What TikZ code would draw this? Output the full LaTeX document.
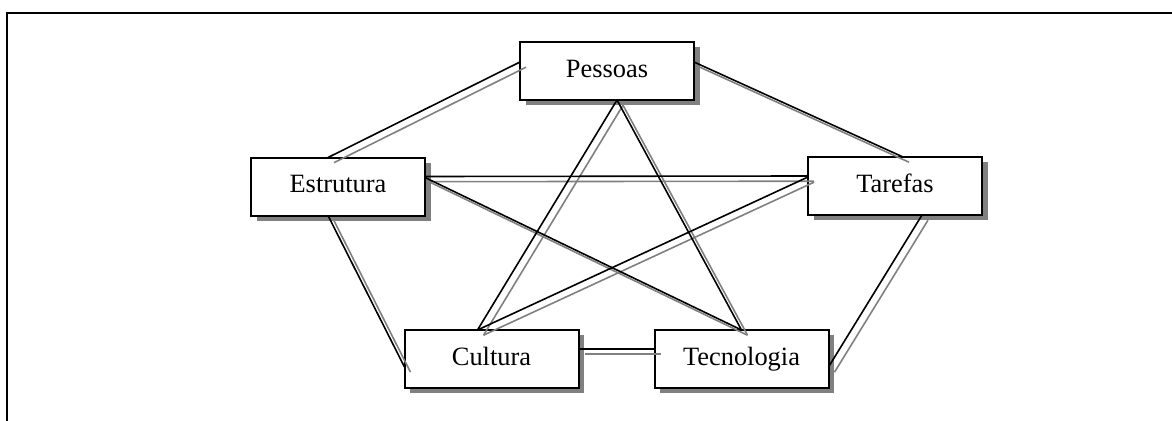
\documentclass[tikz,border=0pt]{standalone}
\usepackage{fontspec}
\setmainfont{Liberation Serif}
\usetikzlibrary{calc,shadows}
\definecolor{shadowgray}{RGB}{128,128,128}
\begin{document}
\begin{tikzpicture}[x=0.75pt,y=-0.75pt,
  box/.style={draw=black, line width=1.5pt, fill=white, outer sep=0pt, inner sep=0pt,
    minimum width=130.5pt, minimum height=43.5pt,
    text height=13pt, text depth=4pt,
    font=\fontsize{19.8}{24}\selectfont,
    drop shadow={shadow xshift=4.3pt, shadow yshift=-3.9pt, fill=shadowgray, opacity=1}},
  link/.style={line width=1.2pt, draw=black},
  linkshadow/.style={line width=1.2pt, draw=shadowgray},
  frame/.style={line width=1.5pt, draw=black}]
\useasboundingbox (0,0) rectangle (1172,421);

% open frame: top and left rules only
\draw[frame] (7,421) -- (7,13) -- (1172,13);

% the five boxes
\node[box] (pes) at (607,71)    {Pessoas};
\node[box] (est) at (338,186.5) {Estrutura};
\node[box] (tar) at (895,186)   {Tarefas};
\node[box] (cul) at (491.5,359) {Cultura};
\node[box] (tec) at (741.5,359) {Tecnologia};

% connector end points on the box borders
\coordinate (pesL)  at ($(pes.north west)+(0,20)$);
\coordinate (pesR)  at ($(pes.north east)+(0,20)$);
\coordinate (pesB)  at ($(pes.south)+(10,0)$);
\coordinate (estT)  at ($(est.north west)+(77,0)$);
\coordinate (estR)  at ($(est.north east)+(0,19)$);
\coordinate (estR2) at ($(est.north east)+(0,20)$);
\coordinate (estB)  at ($(est.south west)+(77,0)$);
\coordinate (tarT)  at ($(tar.north west)+(95,0)$);
\coordinate (tarL)  at ($(tar.north west)+(0,19)$);
\coordinate (tarL2) at ($(tar.north west)+(0,20)$);
\coordinate (tarB)  at ($(tar.south west)+(114,0)$);
\coordinate (culT)  at ($(cul.north west)+(73,0)$);
\coordinate (culL)  at ($(cul.north west)+(0,37)$);
\coordinate (culR)  at ($(cul.north east)+(0,19)$);
\coordinate (tecT)  at ($(tec.north west)+(87,0)$);
\coordinate (tecL)  at ($(tec.north west)+(0,19)$);
\coordinate (tecR)  at ($(tec.north east)+(0,37)$);

\def\linkpairs{pesL/estT, pesR/tarT, estR/tarL, estR2/tecT, tarL2/culT,
  pesB/culT, pesB/tecT, estB/culL, tarB/tecR, culR/tecL}

% gray shadow copies of the connectors
\begin{scope}[transform canvas={xshift=4.5pt,yshift=-3.9pt}]
  \foreach \a/\b in \linkpairs { \draw[linkshadow] (\a) -- (\b); }
\end{scope}

% black connectors
\foreach \a/\b in \linkpairs { \draw[link] (\a) -- (\b); }
\end{tikzpicture}
\end{document}
